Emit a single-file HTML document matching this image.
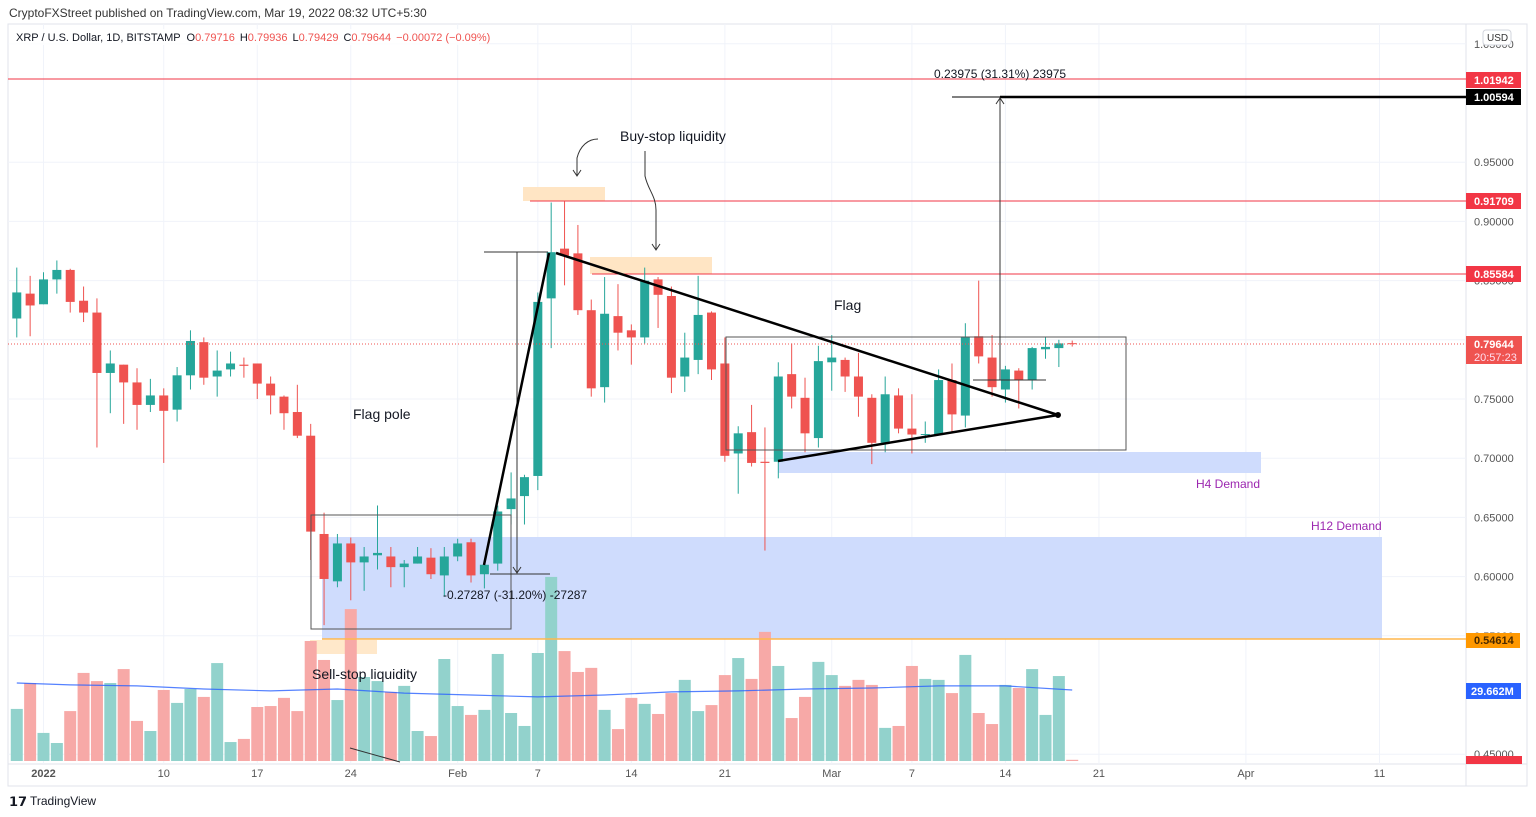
<!DOCTYPE html>
<html><head><meta charset="utf-8">
<style>
html,body{margin:0;padding:0;background:#fff;width:1536px;height:817px;overflow:hidden;font-family:"Liberation Sans",sans-serif;}
svg{position:absolute;left:0;top:0;}
</style></head>
<body>
<svg id="chart" width="1536" height="817" viewBox="0 0 1536 817" xmlns="http://www.w3.org/2000/svg">
  <text x="9" y="17" font-size="12" fill="#333">CryptoFXStreet published on TradingView.com, Mar 19, 2022 08:32 UTC+5:30</text>
  <rect x="8" y="24" width="1519" height="762" fill="none" stroke="#e0e3eb"/>
  <line x1="1466" y1="24" x2="1466" y2="786" stroke="#e0e3eb"/>
  <line x1="8" y1="764" x2="1527" y2="764" stroke="#e0e3eb"/>
  <g id="grid"></g>
  <g id="zones">
    <rect x="322" y="537" width="1060" height="102" fill="#cfdcfd"/>
    <rect x="778" y="452" width="483" height="21" fill="#cfdcfd"/>
    <rect x="523" y="187" width="82" height="14" fill="#ffe5c4"/>
    <rect x="590" y="257" width="122" height="17" fill="#ffe5c4"/>
    <rect x="310" y="640" width="67" height="14" fill="#ffe5c4" opacity="0.9"/>
  </g>
  <g id="volumes"></g>
  <path id="volma" fill="none" stroke="#2962ff" stroke-width="1.2" opacity="0.8"/>
  <g id="levels">
    <line x1="8" y1="79" x2="1466" y2="79" stroke="#f23645" stroke-width="1"/>
    <line x1="530" y1="201" x2="1466" y2="201" stroke="#f23645" stroke-width="1"/>
    <line x1="592" y1="274" x2="1466" y2="274" stroke="#f23645" stroke-width="1"/>
    <line x1="322" y1="639" x2="1466" y2="639" stroke="#ffb74d" stroke-width="1.5"/>
    <line x1="952" y1="97" x2="1000" y2="97" stroke="#000" stroke-width="1"/>
    <line x1="1000" y1="97" x2="1466" y2="97" stroke="#000" stroke-width="2.5"/>
  </g>
  <g id="candles"></g>
  <line id="lastline" x1="8" x2="1466" stroke="#ef5350" stroke-dasharray="1,2" stroke-width="1"/>
  <g id="drawings" fill="none" stroke="#000">
    <rect x="311" y="515" width="200" height="114" stroke="#555"/>
    <rect x="726" y="337" width="400" height="113" stroke="#555"/>
    <line x1="484" y1="252" x2="548" y2="252" stroke="#333"/>
    <line x1="517" y1="252" x2="517" y2="573" stroke="#333"/>
    <path d="M513,567 L517,573 L521,567" stroke="#333"/>
    <line x1="490" y1="574" x2="550" y2="574" stroke="#333"/>
    <line x1="484" y1="565" x2="549" y2="253" stroke="#000" stroke-width="2.5"/>
    <line x1="556" y1="253" x2="1058" y2="415" stroke="#000" stroke-width="2.5"/>
    <line x1="778" y1="461" x2="1058" y2="415" stroke="#000" stroke-width="2.5"/>
    <circle cx="1058" cy="415" r="2.5" fill="#000"/>
    <line x1="973" y1="380" x2="1046" y2="380" stroke="#333"/>
    <line x1="1000" y1="380" x2="1000" y2="98" stroke="#333"/>
    <path d="M996,104 L1000,98 L1004,104" stroke="#333"/>
    <path d="M598,139 C588,139 580,146 577,158 L577,175" stroke="#333"/>
    <path d="M573,170 L577,176 L581,170" stroke="#333"/>
    <path d="M645,151 L645,176 C648,190 656,196 656,210 L656,250" stroke="#333"/>
    <path d="M652,244 L656,250 L660,244" stroke="#333"/>
    <line x1="350" y1="748" x2="400" y2="762" stroke="#333"/>
  </g>
  <g font-size="13" fill="#131722">
    <text x="353" y="419" font-size="14">Flag pole</text>
    <text x="834" y="310" font-size="14">Flag</text>
    <text x="620" y="141" font-size="14">Buy-stop liquidity</text>
    <text x="312" y="679" font-size="14">Sell-stop liquidity</text>
    <text x="1196" y="488" font-size="12" fill="#9c27b0">H4 Demand</text>
    <text x="1311" y="530" font-size="12" fill="#9c27b0">H12 Demand</text>
    <text x="443" y="599" font-size="12">-0.27287 (-31.20%) -27287</text>
    <text x="934" y="78" font-size="12">0.23975 (31.31%) 23975</text>
  </g>
  <rect x="9" y="29" width="470" height="16" fill="#fff" opacity="0.8"/>
  <text x="16" y="41" font-size="11" fill="#131722">XRP / U.S. Dollar, 1D, BITSTAMP <tspan dx="3">O</tspan><tspan fill="#ef5350">0.79716</tspan><tspan dx="5">H</tspan><tspan fill="#ef5350">0.79936</tspan><tspan dx="5">L</tspan><tspan fill="#ef5350">0.79429</tspan><tspan dx="5">C</tspan><tspan fill="#ef5350">0.79644</tspan><tspan dx="5" fill="#ef5350">−0.00072 (−0.09%)</tspan></text>
  <g id="yaxis" font-size="11" fill="#555"></g>
  <g id="xaxis" font-size="11" fill="#555"></g>
  <g font-size="11" font-weight="bold">
    <rect x="1483" y="30" width="28" height="15" rx="3" fill="#fff" stroke="#d1d4dc"/>
    <text x="1487" y="41" fill="#333" font-weight="normal" font-size="10">USD</text>
    <rect x="1466" y="72" width="55" height="16" fill="#f23645"/>
    <text x="1474" y="84" fill="#fff">1.01942</text>
    <rect x="1466" y="89" width="55" height="16" fill="#000"/>
    <text x="1474" y="101" fill="#fff">1.00594</text>
    <rect x="1466" y="193" width="55" height="16" fill="#f23645"/>
    <text x="1474" y="205" fill="#fff">0.91709</text>
    <rect x="1466" y="266" width="55" height="16" fill="#f23645"/>
    <text x="1474" y="278" fill="#fff">0.85584</text>
    <rect x="1466" y="336" width="56" height="28" fill="#ef5350"/>
    <text x="1474" y="348" fill="#fff">0.79644</text>
    <text x="1474" y="361" fill="#fde" font-weight="normal">20:57:23</text>
    <rect x="1466" y="633" width="54" height="15" fill="#ff9800"/>
    <text x="1474" y="644" fill="#4a2a00">0.54614</text>
    <rect x="1466" y="683" width="55" height="16" fill="#2962ff"/>
    <text x="1471" y="695" fill="#fff">29.662M</text>
    <rect x="1466" y="756" width="56" height="8" fill="#f23645"/>
  </g>
  <g>
    <text x="9" y="806" font-size="13" font-weight="bold" fill="#131722">𝟭𝟳</text>
    <text x="30" y="805" font-size="12" fill="#131722">TradingView</text>
  </g>
</svg>
<script>
const opens  = [.818,.839,.830,.851,.859,.833,.823,.772,.779,.764,.745,.753,.741,.770,.798,.769,.775,.779,.780,.763,.752,.739,.719,.636,.596,.628,.612,.618,.617,.608,.611,.616,.601,.617,.629,.602,.611,.657,.668,.685,.835,.877,.873,.825,.760,.820,.808,.802,.851,.837,.769,.783,.823,.780,.704,.722,.697,.697,.771,.751,.717,.781,.783,.769,.751,.713,.753,.725,.7196,.720,.766,.736,.803,.785,.758,.774,.766,.792,.793,.79716];
const highs  = [.861,.854,.857,.867,.860,.845,.835,.791,.779,.776,.767,.759,.777,.808,.802,.791,.790,.785,.780,.769,.753,.762,.729,.654,.636,.633,.625,.660,.625,.614,.625,.624,.625,.632,.632,.611,.660,.688,.686,.840,.916,.917,.897,.834,.853,.847,.813,.861,.853,.845,.806,.854,.824,.802,.727,.745,.726,.781,.797,.768,.795,.804,.785,.789,.754,.769,.759,.754,.731,.775,.780,.814,.850,.804,.778,.776,.794,.802,.800,.79936];
const lows   = [.802,.803,.830,.839,.823,.815,.709,.738,.729,.724,.739,.696,.731,.758,.762,.752,.769,.768,.750,.737,.724,.717,.614,.559,.591,.580,.588,.606,.591,.591,.611,.598,.583,.613,.595,.590,.605,.644,.644,.673,.793,.846,.821,.752,.747,.791,.779,.797,.810,.755,.756,.771,.766,.697,.670,.693,.622,.683,.742,.705,.709,.757,.756,.735,.695,.705,.721,.704,.713,.720,.722,.726,.780,.752,.747,.742,.758,.784,.777,.79429];
const closes = [.840,.829,.851,.859,.832,.823,.772,.780,.764,.745,.753,.740,.770,.799,.768,.774,.780,.778,.763,.753,.738,.719,.638,.598,.628,.612,.617,.620,.608,.611,.617,.602,.617,.628,.601,.610,.655,.666,.684,.832,.874,.871,.825,.759,.822,.806,.802,.850,.838,.768,.785,.821,.775,.702,.721,.696,.696,.769,.752,.721,.782,.785,.769,.752,.713,.754,.725,.720,.7204,.766,.737,.802,.786,.760,.775,.766,.793,.794,.797,.79644];
const volumes = [21.7,32.5,11.7,7.5,20.8,36.7,33.3,32.5,38.3,16.7,12.5,29.6,24.2,30,26.7,40.8,7.9,9.2,22.5,22.9,26.3,20.8,50,42.1,25.4,63.3,35,33.3,28.8,31.3,12.5,10.4,42.5,22.9,19.2,21.3,44.6,20,14.6,45,76.7,45.8,37.1,38.8,21.3,13.3,26.3,23.8,19.6,28.3,33.8,20.8,23.3,35.8,42.9,34.2,53.8,39.6,17.9,26.7,41.3,35.8,31.3,33.8,31.7,13.8,14.6,39.6,34.2,33.8,28.3,44.2,20,15.4,31.7,30.4,38.3,19.2,35.4,0.5];
const volMAIndex = [0,4,9,14,19,24,29,34,39,44,49,54,59,64,69,74,79];
const volMAValues = [32.5,31.7,31.3,30,29.2,30,28.3,27.5,26.7,27.5,28.8,29.2,30,30.4,31.3,31.3,29.6];
const priceTicks = [1.05,0.95,0.90,0.85,0.80,0.75,0.70,0.65,0.60,0.55,0.45];
const priceTickLabels = ["1.05000","0.95000","0.90000","0.85000","0.80000","0.75000","0.70000","0.65000","0.60000","0.55000","0.45000"];
const dateTickDays = [0,9,16,23,31,37,44,51,59,65,72,79,90,100];
const dateTickLabels = ["2022","10","17","24","Feb","7","14","21","Mar","7","14","21","Apr","11"];
const lastPrice = 0.79644;

const NS = "http://www.w3.org/2000/svg";
const firstDay = -2;
function xDay(d){ return 43.5 + 13.36*d; }
function xIdx(i){ return xDay(i + firstDay); }
function yP(p){ return 399 - (p - 0.75)*1184; }
function yV(v){ return 761 - v*2.4; }
function mk(tag, attrs, parent){ const e=document.createElementNS(NS,tag); for(const k in attrs) e.setAttribute(k,attrs[k]); parent.appendChild(e); return e; }

const grid=document.getElementById('grid');
priceTicks.forEach((p,i)=>{
  const l=mk('line',{x1:8,x2:1466,y1:yP(p),y2:yP(p),stroke:'#f0f3fa'},grid);
  
  
});
dateTickDays.forEach((d,i)=>{
  const l=mk('line',{x1:xDay(d),x2:xDay(d),y1:24,y2:764,stroke:'#f0f3fa'},grid);
  
  
});
const ya=document.getElementById('yaxis');
priceTicks.forEach((p,i)=>{
  const t=mk('text',{x:1474,y:yP(p)+4},ya); t.textContent=priceTickLabels[i];
  
  
});
const xa=document.getElementById('xaxis');
dateTickDays.forEach((d,i)=>{
  const t=mk('text',{x:xDay(d),y:777,'text-anchor':'middle'},xa); t.textContent=dateTickLabels[i];
  if(i===0) t.setAttribute('font-weight','bold');
  
  
});

const vg=document.getElementById('volumes');
volumes.forEach((v,i)=>{
  const up=closes[i]>=opens[i];
  const r=mk('rect',{x:xIdx(i)-6,y:yV(v),width:12,height:761-yV(v),fill:up?'#92d2cc':'#f7a9a7'},vg);
  
  
});
let dstr='';
volMAIndex.forEach((idx,k)=>{ dstr += (k?'L':'M') + xIdx(idx).toFixed(1) + ',' + yV(volMAValues[k]).toFixed(1) + ' '; });
document.getElementById('volma').setAttribute('d', dstr);

const cg=document.getElementById('candles');
opens.forEach((o,i)=>{
  const c=closes[i], up=c>=o, col=up?'#26a69a':'#ef5350', x=xIdx(i);
  const w=mk('line',{x1:x,x2:x,y1:yP(highs[i]),y2:yP(lows[i]),stroke:col,'stroke-width':1},cg);
  
  
  const top=yP(Math.max(o,c)), bot=yP(Math.min(o,c));
  const b=mk('rect',{x:x-4.5,y:top,width:9,height:Math.max(1,bot-top),fill:col},cg);
  
  
});
const ll=document.getElementById('lastline');
ll.setAttribute('y1',yP(lastPrice)); ll.setAttribute('y2',yP(lastPrice));
</script>
</body></html>
